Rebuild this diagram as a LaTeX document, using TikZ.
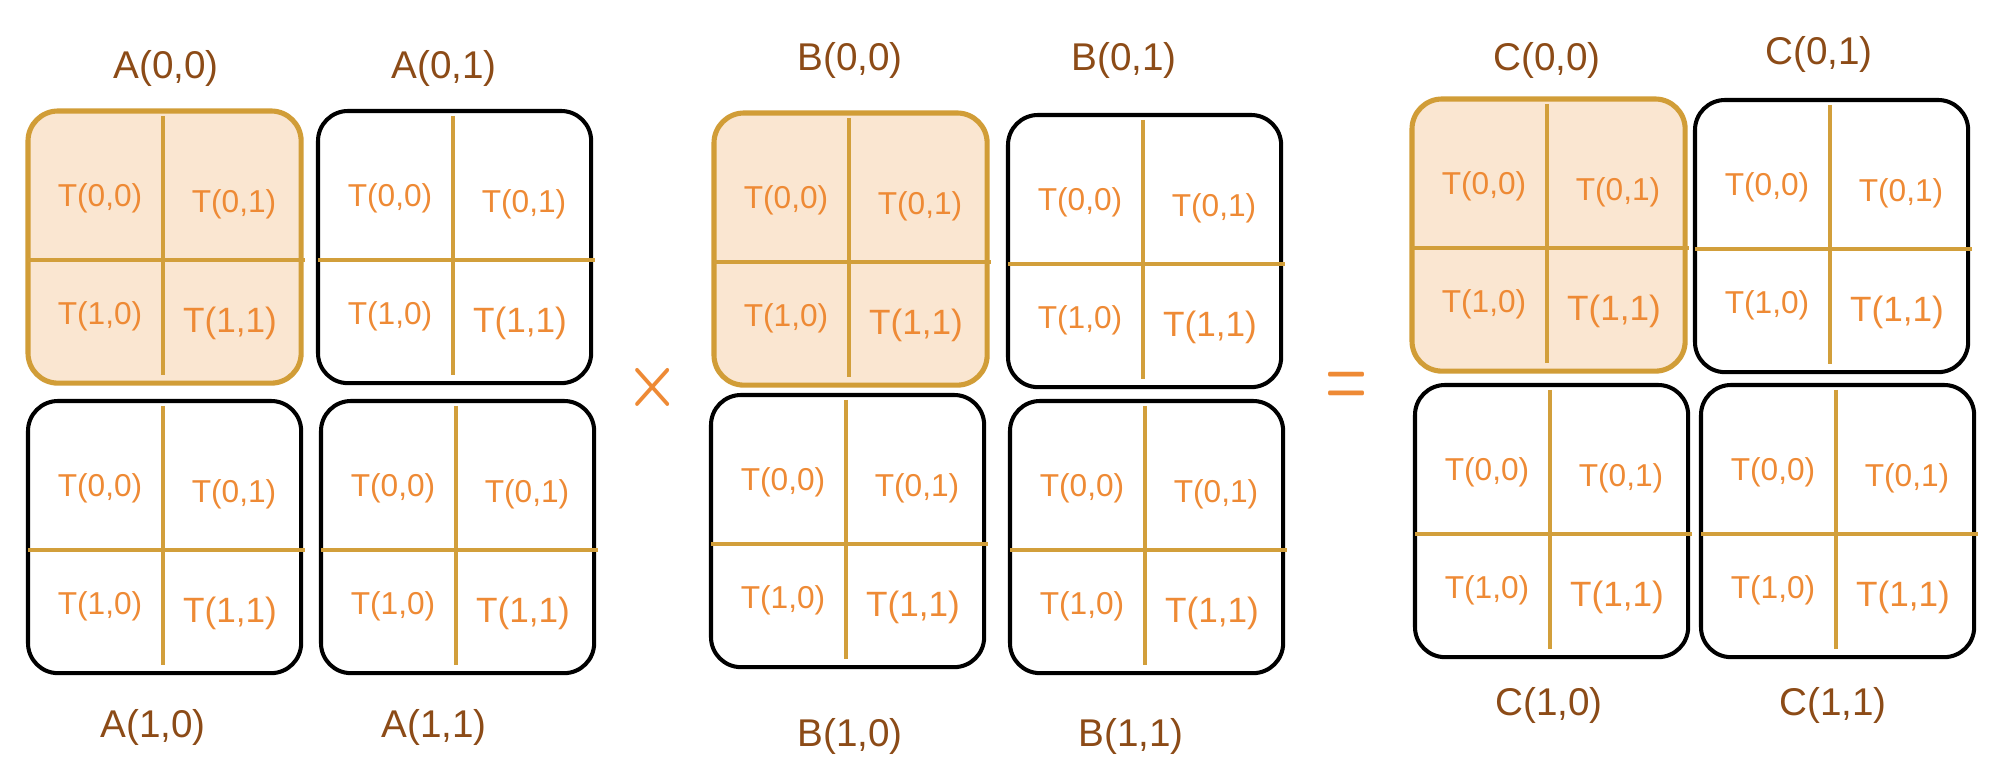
\documentclass[tikz,border=0pt]{standalone}
\usepackage{fontspec}
\setmainfont{Liberation Sans}
\usetikzlibrary{calc}
\definecolor{lblbrown}{HTML}{8C4B17}
\definecolor{torange}{HTML}{EE8A35}
\definecolor{divgold}{HTML}{D29F3B}
\definecolor{hlfill}{HTML}{FAE6D1}
\definecolor{hlborder}{HTML}{D19D37}
\tikzset{
  blk/.style={draw=black, line width=1.15pt, rounded corners=0.3cm, inner sep=0pt, outer sep=0pt,
    minimum width=2.73cm, minimum height=2.72cm},
  hlblk/.style={blk, draw=hlborder, fill=hlfill, line width=1.45pt},
  divl/.style={draw=divgold, line width=0.9pt},
  tt/.style={text=torange, font=\fontsize{9}{10}\selectfont, inner sep=0pt},
  tteleven/.style={text=torange, font=\fontsize{10}{11}\selectfont, inner sep=0pt},
  lbl/.style={text=lblbrown, font=\fontsize{11}{13}\selectfont, inner sep=0pt},
  opsym/.style={text=torange, inner sep=0pt}
}
\newcommand\mkblock[4]{%
  \node[#4, anchor=north west] (#1) at (#2,#3) {};
  \coordinate (#1vt) at ($(#1.north west)+(135,5)$);
  \coordinate (#1vb) at ($(#1.south west)+(135,-8)$);
  \coordinate (#1hl) at ($(#1.north west)+(0,149)$);
  \coordinate (#1hr) at ($(#1.north east)+(4,149)$);
  \draw[divl] (#1vt) -- (#1vb);
  \draw[divl] (#1hl) -- (#1hr);
  \node[tt] (#1-00) at ($(#1.north west)+(72,87)$) {T(0,0)};
  \node[tt] (#1-01) at ($(#1.north west)+(206,93)$) {T(0,1)};
  \node[tt] (#1-10) at ($(#1.north west)+(72,205)$) {T(1,0)};
  \node[tteleven] (#1-11) at ($(#1.north west)+(202,212)$) {T(1,1)};
}
\begin{document}
\begin{tikzpicture}[x=0.01cm, y=-0.01cm]
\useasboundingbox (0,0) rectangle (2002,764);
% A blocks
\mkblock{a00}{28}{111}{hlblk}
\mkblock{a01}{318}{111}{blk}
\mkblock{a10}{28}{401}{blk}
\mkblock{a11}{321}{401}{blk}
% B blocks
\mkblock{b00}{714}{113}{hlblk}
\mkblock{b01}{1008}{115}{blk}
\mkblock{b10}{711}{395}{blk}
\mkblock{b11}{1010}{401}{blk}
% C blocks
\mkblock{c00}{1412}{99}{hlblk}
\mkblock{c01}{1695}{100}{blk}
\mkblock{c10}{1415}{385}{blk}
\mkblock{c11}{1701}{385}{blk}
% labels
\node[lbl] (la00) at (166,68) {A(0,0)};
\node[lbl] (la01) at (444,68) {A(0,1)};
\node[lbl] (la10) at (153,727) {A(1,0)};
\node[lbl] (la11) at (434,727) {A(1,1)};
\node[lbl] (lb00) at (850,60) {B(0,0)};
\node[lbl] (lb01) at (1124,60) {B(0,1)};
\node[lbl] (lb10) at (850,736) {B(1,0)};
\node[lbl] (lb11) at (1131,736) {B(1,1)};
\node[lbl] (lc00) at (1547,60) {C(0,0)};
\node[lbl] (lc01) at (1819,54) {C(0,1)};
\node[lbl] (lc10) at (1549,705) {C(1,0)};
\node[lbl] (lc11) at (1833,705) {C(1,1)};
% operators
\node[opsym] (times) at (653,387) {\scalebox{1}[1.12]{\fontsize{19}{20}\selectfont\boldmath$\times$}};
\node[opsym] (equals) at (1347,389) {\scalebox{0.95}[1.7]{\fontsize{15.4}{16}\selectfont\boldmath$=$}};
\end{tikzpicture}
\end{document}
